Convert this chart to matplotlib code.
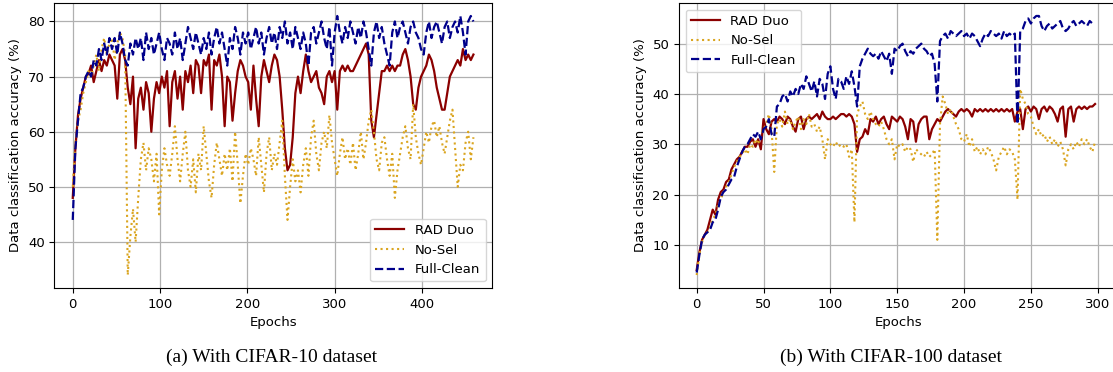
import numpy as np
import matplotlib
matplotlib.use("Agg")
import matplotlib.pyplot as plt

# CIFAR-10 panel, one value every 3 epochs
ep10 = np.arange(0, 460, 3)
rad10 = [48, 57, 63, 66, 68, 70, 70.5, 72, 69, 71,
         73, 71, 73, 72, 74, 73, 72, 66, 74, 75,
         73, 68, 65, 70, 57, 66, 68, 64, 69, 67,
         60, 66, 69, 67, 70, 68, 71, 61, 69, 71,
         66, 70, 64, 71, 69, 72, 67, 73, 72, 67,
         73, 72, 74, 64, 73, 72, 74, 70, 61, 70,
         69, 62, 67, 71, 73, 72, 70, 69, 64, 72,
         66, 61, 70, 73, 71, 69, 72, 74, 73, 70,
         64, 57, 53, 54, 59, 67, 70, 67, 71, 74,
         71, 69, 70, 71, 68, 67, 65, 70, 71, 69,
         71, 64, 71, 72, 71, 72, 71, 71, 72, 73,
         74, 75, 76, 74, 62, 59, 63, 67, 71, 71,
         72, 71, 72, 71, 72, 72, 74, 75, 73, 70,
         65, 64, 68, 70, 71, 72, 74, 73, 71, 68,
         66, 64, 64, 67, 70, 71, 72, 73, 72, 75,
         73, 74, 73, 74]
nosel10 = [50, 58, 62, 64, 67, 69, 71, 70, 72, 74,
           71, 75, 77, 74, 76, 77, 73, 76, 78, 77,
           74, 34, 41, 46, 40, 48, 55, 58, 53, 57,
           55, 51, 56, 45, 53, 57, 54, 52, 56, 61,
           55, 51, 56, 60, 53, 50, 55, 49, 56, 53,
           61, 56, 51, 48, 54, 58, 55, 52, 56, 53,
           57, 51, 60, 54, 47, 52, 56, 54, 57, 55,
           52, 59, 54, 49, 56, 59, 53, 56, 54, 58,
           62, 52, 44, 50, 55, 51, 53, 49, 54, 57,
           52, 59, 62, 56, 53, 58, 60, 57, 63, 58,
           55, 52, 56, 59, 55, 57, 54, 58, 53, 56,
           60, 55, 58, 62, 64, 60, 55, 53, 58, 59,
           55, 52, 56, 48, 53, 56, 59, 61, 57, 55,
           65, 59, 56, 54, 57, 60, 58, 61, 62, 59,
           61, 58, 56, 59, 62, 64, 57, 50, 54, 53,
           58, 60, 55, 59]
full10 = [44, 57, 62, 67, 68, 70, 71, 70, 73, 72,
          75, 73, 76, 74, 77, 75, 77, 74, 78, 76,
          73, 72, 76, 74, 77, 75, 77, 73, 78, 75,
          77, 74, 76, 78, 75, 73, 77, 76, 74, 78,
          75, 77, 73, 76, 79, 77, 75, 78, 76, 74,
          77, 75, 78, 74, 77, 79, 76, 78, 75, 72,
          77, 75, 79, 77, 74, 78, 76, 78, 75, 77,
          79, 76, 78, 74, 77, 79, 76, 78, 75, 79,
          77, 80, 76, 78, 75, 79, 77, 75, 78, 76,
          72, 78, 79, 76, 78, 80, 77, 75, 79, 72,
          78, 81, 78, 76, 79, 77, 80, 78, 76, 79,
          77, 80, 78, 75, 72, 78, 80, 77, 79, 76,
          74, 72, 78, 80, 77, 79, 80, 78, 76, 79,
          80, 78, 77, 75, 74, 78, 80, 77, 79, 80,
          78, 76, 79, 80, 77, 79, 80, 78, 81, 78,
          74, 80, 81, 80]

# CIFAR-100 panel, one value every 2 epochs
ep100 = np.arange(0, 300, 2)
rad100 = [5, 8.5, 11, 12, 13, 15, 17, 16, 19, 20.5,
          21, 22.5, 23, 25, 26, 27, 27.5, 28.5, 29.5, 29.5,
          30.5, 31, 29.5, 31, 29, 35, 33, 32, 34.5, 35,
          34.5, 35.5, 35, 34, 35.5, 35, 33.5, 32.5, 35, 35.5,
          33, 35, 35.5, 35, 35.5, 36, 35, 36.5, 35.5, 35,
          35, 35.5, 35, 35.5, 36, 36, 35.5, 36, 35.5, 34,
          28.5, 31, 31.5, 33, 32, 35, 34.5, 35.5, 34, 35,
          35.5, 34, 33, 35.5, 35, 34.5, 35.5, 35, 33.5, 31,
          35, 34.5, 30.5, 34, 35, 35.5, 35.5, 31, 33, 34,
          35, 34.5, 35.5, 36.5, 37, 36.5, 36, 35.5, 36.5, 37,
          36.5, 37, 36.5, 35.5, 37, 36.5, 37, 36.5, 37, 36.5,
          37, 36.5, 37, 36.5, 37, 36.5, 37, 36.5, 37, 34.5,
          36.5, 37, 33, 37, 37.5, 36.5, 37.5, 37, 35, 37,
          37.5, 36.5, 37.5, 37, 36, 34.5, 37, 37.5, 31.5, 37,
          37.5, 34.5, 37, 37.5, 37, 37.5, 37, 37.5, 37.5, 38]
nosel100 = [4, 8, 10.5, 12, 12.5, 13.5, 15, 16, 18, 19,
            20.5, 21.5, 22.5, 24, 25.5, 26.5, 27.5, 28, 29, 28,
            30, 29.5, 31, 30, 32, 33, 34, 36, 33, 24.5,
            34, 35, 33.5, 36.5, 34, 35, 33, 34.5, 35.5, 33,
            35, 34, 36, 33.5, 34, 32.5, 33.5, 31, 27, 31,
            30, 29.5, 30.5, 29.5, 30, 29.5, 30, 27.5, 29, 14.5,
            36, 37.5, 38.5, 36, 35, 36.5, 35, 34, 33.5, 34.5,
            33, 31, 30, 31, 27, 30, 29.5, 30, 28.5, 29.5,
            29, 26.5, 29, 28.5, 28, 27.5, 28.5, 27.5, 28, 29,
            11, 34, 39.5, 38, 36, 37, 35.5, 34, 33, 31,
            30.5, 32, 29.5, 31, 28.5, 29.5, 28, 29, 28, 29.5,
            28.5, 27, 24.8, 27.5, 28.5, 29.5, 28, 29, 28.5, 27,
            19, 41, 39, 38, 36, 35.5, 33.5, 32, 33, 31.5,
            32, 30.5, 31.5, 30, 31, 29.5, 30.5, 29, 25.8, 29,
            30, 29, 30.5, 29.5, 31, 30, 31, 29.5, 28.5, 30.5]
full100 = [4.5, 8, 11, 12, 12.5, 13, 14.5, 15, 17, 19.5,
           20.5, 21, 22, 23, 23.5, 25.5, 27, 28.5, 29.5, 30,
           31, 32, 31.5, 32.5, 31, 33, 33.5, 35, 32, 31.5,
           37.5, 38, 39.5, 40, 38.5, 40.5, 39.5, 41, 40, 42,
           41, 43.5, 42, 40.5, 42.5, 39.5, 43, 42, 39, 44,
           45.5, 41, 39, 43, 42.5, 41, 43.5, 42, 44.5, 41.5,
           37.5, 45.5, 47, 48, 49, 48, 47.5, 48, 47, 48.5,
           47.5, 46.5, 48, 44, 49, 48.5, 49.5, 50, 48.5, 47.5,
           48.5, 48, 49, 49.5, 50, 49, 48.5, 47.5, 48, 46,
           38.5, 50.5, 51.5, 52, 51, 52.5, 52, 51.5, 52, 52.5,
           51.5, 52, 51, 52, 51.5, 50.5, 49.5, 51, 52, 51.5,
           52.5, 52, 51.5, 52, 51, 52.5, 51.5, 52, 51.5, 52,
           34, 52.5, 53, 54.5, 55, 54, 55, 55.5, 55.5, 53.5,
           52.5, 53.5, 54, 53, 53.5, 54, 54.5, 53, 52.5, 53,
           54, 54.5, 53.5, 54, 54.5, 54, 53.5, 54.5, 54, 54]

labels = ["RAD Duo", "No-Sel", "Full-Clean"]
captions = ["(a) With CIFAR-10 dataset", "(b) With CIFAR-100 dataset"]

fig = plt.figure(figsize=(11.13, 3.72), dpi=100)
ax1 = fig.add_axes([0.0489, 0.2258, 0.3934, 0.7661])
ax2 = fig.add_axes([0.6101, 0.2258, 0.3942, 0.7661])

panels = [(ax1, ep10, rad10, nosel10, full10, "lower right"),
          (ax2, ep100, rad100, nosel100, full100, "upper left")]

for ax, ep, rad, nosel, full, loc in panels:
    ax.plot(ep, rad, color="#8b0000", lw=1.6, label=labels[0])
    ax.plot(ep, nosel, color="#daa520", lw=1.5, ls=":", label=labels[1])
    ax.plot(ep, full, color="#00008b", lw=1.6, ls="--", label=labels[2])
    ax.grid(True, color="#b0b0b0", lw=0.9)
    ax.set_axisbelow(True)
    ax.set_xlabel("Epochs", fontsize=9.5)
    ax.set_ylabel("Data classification accuracy (%)", fontsize=9.5)
    ax.tick_params(labelsize=9.5)
    ax.legend(loc=loc, fontsize=9.5, handlelength=2.2)

ax1.set_xlim(-21, 480.6)
ax1.set_xticks([0, 100, 200, 300, 400])
ax1.set_yticks([40, 50, 60, 70, 80])
ax2.set_xlim(-13.2, 315)
ax2.set_xticks([0, 50, 100, 150, 200, 250, 300])
ax2.set_yticks([10, 20, 30, 40, 50])

fig.text(272 / 1113, 1 - 357 / 372, captions[0], ha="center", va="center",
         family="Liberation Serif", fontsize=14)
fig.text(891 / 1113, 1 - 357 / 372, captions[1], ha="center", va="center",
         family="Liberation Serif", fontsize=14)

fig.savefig("out.png", dpi=100)
